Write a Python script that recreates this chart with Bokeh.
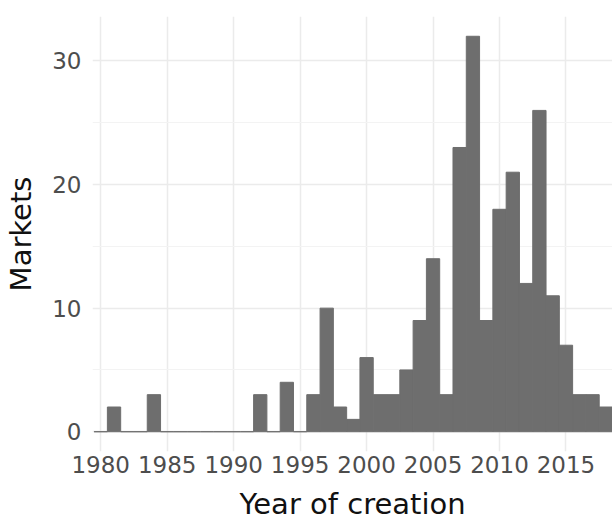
from bokeh.plotting import figure
from bokeh.models import ColumnDataSource, FixedTicker, Range1d
from bokeh.embed import file_html
from bokeh.resources import INLINE

# Data: markets created per year (histogram, 1-year bins)
years = list(range(1980, 2019))
markets = [0, 2, 0, 0, 3, 0, 0, 0, 0, 0, 0, 0, 3, 0, 4, 0, 3, 10, 2, 1,
           6, 3, 3, 5, 9, 14, 3, 23, 32, 9, 18, 21, 12, 26, 11, 7, 3, 3, 2]
x_ticks = [1980, 1985, 1990, 1995, 2000, 2005, 2010, 2015]
y_ticks = [0, 10, 20, 30]
y_minor = [5, 15, 25]
x_title = "Year of creation"
y_title = "Markets"

src = ColumnDataSource(dict(
    left=[y - 0.5 for y in years],
    right=[y + 0.5 for y in years],
    top=markets,
    bottom=[0] * len(years),
))

FONT = "DejaVu Sans"
W, H = 612, 523
BL, BT, BB = 92, 16, 71
p = figure(width=W, height=H, output_backend="svg", toolbar_location=None,
           x_range=Range1d(1979.38, 2018.5), y_range=Range1d(-1.6, 33.6),
           min_border_left=BL, min_border_right=0, min_border_top=BT,
           min_border_bottom=BB)
p.outline_line_color = None
p.background_fill_color = "white"
p.border_fill_color = "white"

p.quad(left="left", right="right", top="top", bottom="bottom", source=src,
       fill_color="#6e6e6e", line_color="#6e6e6e", line_width=1)

p.xaxis.ticker = FixedTicker(ticks=x_ticks)
p.yaxis.ticker = FixedTicker(ticks=y_ticks, minor_ticks=y_minor)

for ax in (p.xaxis[0], p.yaxis[0]):
    ax.axis_line_color = None
    ax.major_tick_line_color = None
    ax.minor_tick_line_color = None
    ax.major_tick_out = 0
    ax.major_tick_in = 0
    ax.major_label_text_font = FONT
    ax.major_label_text_font_size = "23px"
    ax.major_label_text_color = "#4d4d4d"
    ax.axis_label_text_font = FONT
    ax.axis_label_text_font_size = "29px"
    ax.axis_label_text_font_style = "normal"
    ax.axis_label_text_color = "#111111"

p.xaxis.axis_label = x_title
p.yaxis.axis_label = y_title
p.xaxis.major_label_standoff = 4
p.yaxis.major_label_standoff = 7
p.xaxis.axis_label_standoff = 11
p.yaxis.axis_label_standoff = 11

p.xgrid.grid_line_color = "#ebebeb"
p.xgrid.grid_line_width = 1.5
p.ygrid.grid_line_color = "#ebebeb"
p.ygrid.grid_line_width = 1.5
p.ygrid.minor_grid_line_color = "#f3f3f3"
p.ygrid.minor_grid_line_width = 1.2

open("out.html", "w").write(file_html(p, INLINE))
